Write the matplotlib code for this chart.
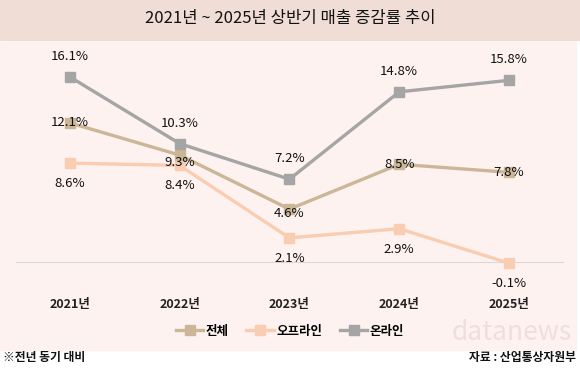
import matplotlib
matplotlib.use('Agg')
import matplotlib.pyplot as plt
from matplotlib.patches import Rectangle

plt.rcParams['font.family'] = ['Noto Sans CJK KR', 'DejaVu Sans']

years = ['2021년', '2022년', '2023년', '2024년', '2025년']
total = [12.1, 9.3, 4.6, 8.5, 7.8]
offline = [8.6, 8.4, 2.1, 2.9, -0.1]
online = [16.1, 10.3, 7.2, 14.8, 15.8]

C_TOTAL = '#cbb698'
C_OFF = '#f8cdb1'
C_ON = '#a5a5a5'
BG_PLOT = '#fdf2ef'
BG_TITLE = '#f0ddd6'

fig = plt.figure(figsize=(5.8, 3.78), dpi=100)
W, H = 580, 378

# background bands
fig.patches.append(Rectangle((0, 1 - 40 / H), 1, 40 / H, transform=fig.transFigure,
                             color=BG_TITLE, zorder=-10))
fig.patches.append(Rectangle((0, 1 - 350 / H), 576 / W, 308 / H, transform=fig.transFigure,
                             color=BG_PLOT, zorder=-10))

fig.text(290 / W, 1 - 19 / H, '2021년 ~ 2025년 상반기 매출 증감률 추이', ha='center', va='center',
         fontsize=12, color='#111111')

ax = fig.add_axes([16 / W, 1 - 290 / H, 548 / W, 245 / H], zorder=2)
ax.set_facecolor('none')
x = list(range(len(years)))
ax.set_xlim(-0.49, 4.5)
ax.set_ylim(-2.43, 18.87)
for s in ax.spines.values():
    s.set_visible(False)
ax.set_yticks([])
ax.set_xticks(x)
ax.set_xticklabels(years, fontsize=9, fontweight='bold', color='#222222')
ax.tick_params(axis='x', length=0, pad=6)
ax.axhline(0, color='#d9d9d9', lw=0.8, zorder=1)

ax.plot(x, total, color=C_TOTAL, lw=2.4, marker='s', ms=7, label='전체', zorder=3)
ax.plot(x, offline, color=C_OFF, lw=2.4, marker='s', ms=7, label='오프라인', zorder=2)
ax.plot(x, online, color=C_ON, lw=2.4, marker='s', ms=7, label='온라인', zorder=3)

kw = dict(ha='center', fontsize=9.5, color='#111111', zorder=5)
for xi, v in zip(x, online):
    ax.annotate(f'{v}%', (xi, v), xytext=(0, 10), textcoords='offset points', va='bottom', **kw)
for xi, v in zip(x, offline):
    ax.annotate(f'{v}%', (xi, v), xytext=(0, -10), textcoords='offset points', va='top', **kw)
for xi, v, dy in zip(x, total, [0, -5, -3, 0, 0]):
    ax.annotate(f'{v}%', (xi, v), xytext=(0, dy), textcoords='offset points', va='center', **kw)

leg = ax.legend(loc='center', bbox_to_anchor=(0.5, -(331 - 290) / 245),
                ncol=3, frameon=False, fontsize=9, handlelength=2.2, handletextpad=0.2,
                columnspacing=1.4)
for t in leg.get_texts():
    t.set_fontweight('bold')

fig.text(3 / W, 1 - 357 / H, '※전년 동기 대비', ha='left', va='center', fontsize=8.5,
         fontweight='bold', color='#111111')
fig.text(576 / W, 1 - 357 / H, '자료 : 산업통상자원부', ha='right', va='center', fontsize=8.5,
         fontweight='bold', color='#111111')

# faint watermark
fig.text(572 / W, 1 - 332 / H, 'datanews', ha='right', va='center', fontsize=19,
         color='#f0dede', zorder=0)

fig.savefig('out.png', dpi=100, facecolor='white')
